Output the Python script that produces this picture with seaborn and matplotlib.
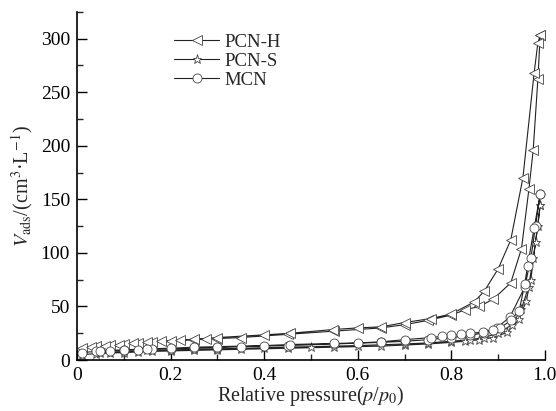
import matplotlib
matplotlib.use("Agg")
import matplotlib.pyplot as plt
import seaborn as sns
import numpy as np
from matplotlib.lines import Line2D
from matplotlib.ticker import MultipleLocator

sns.set_style("ticks")
plt.rcParams['font.family'] = ['Liberation Serif', 'DejaVu Serif']
plt.rcParams['mathtext.fontset'] = 'stix'

# PCN-H
pcnh_ads_x = [0.01, 0.04, 0.07, 0.10, 0.13, 0.16, 0.20, 0.25, 0.30, 0.35, 0.45, 0.55, 0.65, 0.70, 0.75, 0.80, 0.83, 0.86, 0.89, 0.927, 0.95, 0.966, 0.975, 0.985, 0.99]
pcnh_ads_y = [11, 13, 14, 15, 16, 17, 18, 19, 20, 21, 24, 27, 30, 33, 37, 42, 47, 50, 57, 72, 104, 160, 196, 262, 303]
pcnh_des_x = [0.99, 0.985, 0.977, 0.953, 0.927, 0.90, 0.87, 0.848, 0.80, 0.756, 0.70, 0.65, 0.60, 0.548, 0.456, 0.40, 0.30, 0.275, 0.25, 0.22, 0.18, 0.15, 0.12, 0.09, 0.06, 0.03]
pcnh_des_y = [303, 296, 268, 170, 112, 85, 64, 54, 43, 38.7, 35, 31, 30, 28.5, 25, 23.5, 21, 20, 19.5, 18.5, 17.5, 16.5, 15.5, 14.5, 13.5, 12.5]

# PCN-S
pcns_ads_x = [0.01, 0.04, 0.07, 0.10, 0.13, 0.16, 0.20, 0.25, 0.30, 0.35, 0.45, 0.55, 0.65, 0.70, 0.75, 0.80, 0.83, 0.86, 0.89, 0.92, 0.945, 0.96, 0.97, 0.98, 0.99]
pcns_ads_y = [5, 6, 6.5, 7, 7.5, 8, 8.5, 9, 9.5, 10, 11, 12, 13, 14, 15, 16.5, 17.5, 19, 21, 26, 38, 55, 75, 110, 145]
pcns_des_x = [0.99, 0.985, 0.975, 0.965, 0.95, 0.93, 0.90, 0.87, 0.84, 0.80, 0.75, 0.70, 0.60, 0.50, 0.40, 0.30, 0.25, 0.20, 0.15, 0.10, 0.05]
pcns_des_y = [145, 125, 95, 68, 48, 33, 25, 21, 19, 17.5, 16, 15, 13.5, 12.5, 11.5, 10.5, 10, 9.5, 9, 8, 7]

# MCN
mcn_ads_x = [0.01, 0.04, 0.07, 0.10, 0.13, 0.16, 0.20, 0.25, 0.30, 0.35, 0.45, 0.55, 0.65, 0.70, 0.75, 0.80, 0.84, 0.87, 0.897, 0.925, 0.957, 0.97, 0.98, 0.99]
mcn_ads_y = [7, 8, 8.5, 9, 9.5, 10, 10.5, 11, 11.5, 12.5, 13.5, 15, 16.5, 17.5, 19, 21, 23, 25.5, 30, 40, 68, 95, 125, 155]
mcn_des_x = [0.99, 0.977, 0.963, 0.957, 0.945, 0.927, 0.905, 0.89, 0.867, 0.84, 0.82, 0.80, 0.78, 0.756, 0.70, 0.65, 0.60, 0.55, 0.456, 0.40, 0.30, 0.25, 0.20, 0.15, 0.10, 0.05]
mcn_des_y = [155, 123, 88, 71, 46, 37, 30, 28, 26, 25, 24, 23, 22, 21, 19, 17, 16, 15.5, 14.5, 13.5, 12.5, 12, 11, 10.5, 9.5, 8.5]

labels = ["PCN-H", "PCN-S", "MCN"]
markers = ["<", "*", "o"]
msizes = [7.5, 6.5, 6.5]

fig = plt.figure(figsize=(5.56, 4.11), dpi=100)
ax = fig.add_axes([0.1385, 0.124, 0.8415, 0.847])

series = [
    (pcnh_ads_x + pcnh_des_x, pcnh_ads_y + pcnh_des_y),
    (pcns_ads_x + pcns_des_x, pcns_ads_y + pcns_des_y),
    (mcn_ads_x + mcn_des_x, mcn_ads_y + mcn_des_y),
]

col = "#222222"
handles = []
for (xs, ys), lab, mk, ms in zip(series, labels, markers, msizes):
    sns.lineplot(x=np.array(xs), y=np.array(ys), sort=False, estimator=None, ax=ax,
                 color=col, linewidth=0.8, marker=mk, markersize=ms,
                 markerfacecolor="white", markeredgecolor="#444444", markeredgewidth=0.6)
    handles.append(Line2D([], [], color=col, linewidth=0.8, marker=mk, markersize=ms,
                          markerfacecolor="white", markeredgecolor="#444444", markeredgewidth=0.6))

ax.set_xlim(0, 1.0)
ax.set_ylim(0, 325)
ax.xaxis.set_major_locator(MultipleLocator(0.2))
ax.xaxis.set_minor_locator(MultipleLocator(0.1))
ax.yaxis.set_major_locator(MultipleLocator(50))
ax.yaxis.set_minor_locator(MultipleLocator(25))
ax.set_xticks([0, 0.2, 0.4, 0.6, 0.8, 1.0])
ax.set_xticklabels(["0", "0.2", "0.4", "0.6", "0.8", "1.0"])
ax.tick_params(which="major", direction="in", length=7, width=1.0, labelsize=14, colors="black", pad=5)
ax.tick_params(which="minor", direction="in", length=4, width=1.0)
for s in ["top", "right"]:
    ax.spines[s].set_visible(False)
for s in ["left", "bottom"]:
    ax.spines[s].set_linewidth(1.2)
    ax.spines[s].set_color("black")

ax.set_xlabel(r"Relative pressure($p$/$p_0$)", fontsize=14.5, labelpad=0)
ax.set_ylabel(r"$V_{\rm ads}$/(cm$^3$·L$^{-1}$)", fontsize=14.5, labelpad=4)

leg = ax.legend(handles, labels, loc="upper left", bbox_to_anchor=(0.18, 0.975),
                frameon=False, fontsize=13.5, handlelength=2.4, handletextpad=0.25,
                labelspacing=0.1, borderpad=0.2)

fig.savefig("out.png", dpi=100)
